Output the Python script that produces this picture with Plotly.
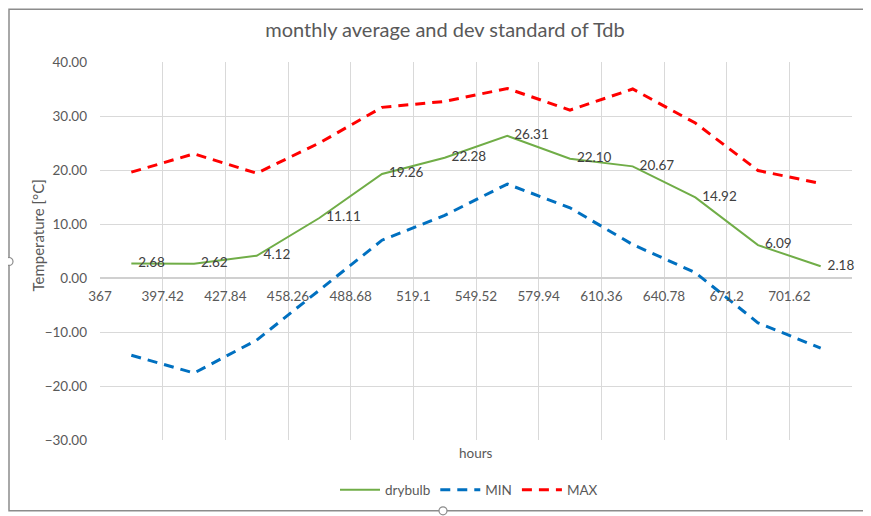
import plotly.graph_objects as go

# mid-month positions on the "hours" axis
hours = [382.21, 412.63, 443.05, 473.47, 503.89, 534.31,
         564.73, 595.15, 625.57, 655.99, 686.41, 716.83]

drybulb = [2.68, 2.62, 4.12, 11.11, 19.26, 22.28, 26.31, 22.10, 20.67, 14.92, 6.09, 2.18]
t_min = [-14.3, -17.6, -11.5, -2.2, 7.0, 11.6, 17.4, 13.0, 6.2, 1.0, -8.3, -13.0]
t_max = [19.6, 23.0, 19.4, 25.0, 31.6, 32.7, 35.1, 31.1, 35.0, 28.7, 19.9, 17.5]

tick_vals = [367, 397.42, 427.84, 458.26, 488.68, 519.1,
             549.52, 579.94, 610.36, 640.78, 671.2, 701.62]
tick_text = ["367", "397.42", "427.84", "458.26", "488.68", "519.1",
             "549.52", "579.94", "610.36", "640.78", "671.2", "701.62"]

FONT = "Lato, Open Sans, sans-serif"
GREY = "#595959"

# page body has an 8px margin, so the figure is made smaller to fit the window
W, H, OFF = 863, 508, 8
PLOT_L, PLOT_R, PLOT_T, PLOT_B = 100, 852, 62, 441


def px(x):
    return (x - PLOT_L) / (PLOT_R - PLOT_L)


def py(y):
    return (PLOT_B - y) / (PLOT_B - PLOT_T)


fig = go.Figure()

fig.add_trace(go.Scatter(
    x=hours, y=drybulb, name="drybulb",
    mode="lines+text",
    line=dict(color="#70AD47", width=2),
    text=[f"  {v:.2f}" for v in drybulb],
    textposition="middle right",
    textfont=dict(color="#404040", size=13.5, family=FONT),
    cliponaxis=False,
))
fig.add_trace(go.Scatter(
    x=hours, y=t_min, name="MIN", mode="lines",
    line=dict(color="#0070C0", width=3, dash="10px,7px"),
))
fig.add_trace(go.Scatter(
    x=hours, y=t_max, name="MAX", mode="lines",
    line=dict(color="#FF0000", width=3, dash="10px,7px"),
))

fig.update_layout(
    width=W, height=H,
    margin=dict(l=PLOT_L - OFF, r=W + OFF - PLOT_R, t=PLOT_T - OFF, b=H + OFF - PLOT_B),
    paper_bgcolor="white", plot_bgcolor="white",
    font=dict(family=FONT, color=GREY, size=13.5),
    title=dict(
        text="monthly average and dev standard of Tdb",
        x=px(445), xref="paper", xanchor="center",
        y=1 - (30 - OFF) / H, yanchor="middle", yref="container",
        font=dict(size=20, color=GREY),
    ),
    xaxis=dict(
        range=[367, 732.04],
        tickvals=tick_vals, ticktext=tick_text,
        showgrid=True, gridcolor="#d9d9d9", gridwidth=1,
        anchor="free", position=3 / 7,
        showline=False, zeroline=False, ticks="",
        ticklabelstandoff=8,
    ),
    yaxis=dict(
        range=[-30, 40], dtick=10, tickformat=".2f",
        showgrid=True, gridcolor="#d9d9d9", gridwidth=1,
        zeroline=True, zerolinecolor="#d0d0d0", zerolinewidth=2,
        showline=False, ticks="", ticklabelstandoff=12,
    ),
    showlegend=True,
    legend=dict(
        orientation="h", x=px(469), xanchor="center",
        y=py(490), yanchor="middle",
        font=dict(size=13.5, color=GREY),
        itemwidth=40,
    ),
    annotations=[
        dict(text="hours", xref="paper", yref="paper",
             x=px(476), y=py(454), xanchor="center", yanchor="middle",
             showarrow=False, font=dict(size=13.5, color=GREY)),
        dict(text="Temperature [°C]", xref="paper", yref="paper",
             x=px(38), y=py(236), xanchor="center", yanchor="middle",
             textangle=-90, showarrow=False, font=dict(size=15, color=GREY)),
    ],
)

# chart area border, as in the selected Excel chart
fig.add_shape(type="rect", xref="paper", yref="paper",
              x0=px(9), x1=px(880), y0=py(512), y1=py(9),
              line=dict(color="#8c8c8c", width=1.5), layer="below")
for cx, cy in [(9, 262), (443, 512)]:
    fig.add_shape(type="circle", xref="paper", yref="paper",
                  x0=px(cx - 4), x1=px(cx + 4), y0=py(cy + 4), y1=py(cy - 4),
                  line=dict(color="#8c8c8c", width=1.2), fillcolor="white")

fig.write_html("out.html")
